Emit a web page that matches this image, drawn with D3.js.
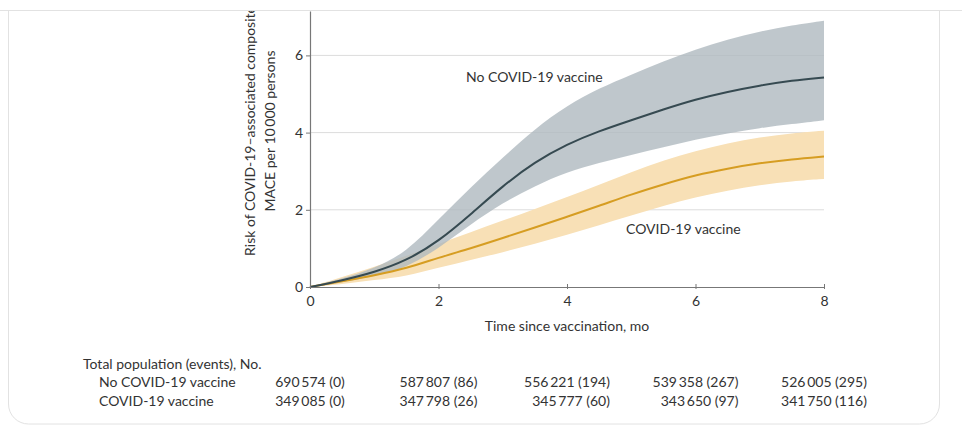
<script src="https://cdn.jsdelivr.net/npm/d3@7"></script>
<style>
  body { margin: 0; background: #fff; }
  text { font-family: Lato, "Noto Sans", sans-serif; fill: #333; }
</style>
<body></body>
<script>
  // Data
  var months = [0, 0.5, 1, 1.5, 2, 2.5, 3, 3.5, 4, 4.5, 5, 5.5, 6, 6.5, 7, 7.5, 8];

  var noVaxRisk  = [0, 0.17, 0.38, 0.68, 1.18, 1.88, 2.62, 3.24, 3.70, 4.04, 4.32, 4.60, 4.86, 5.06, 5.22, 5.35, 5.43];
  var noVaxLower = [0, 0.12, 0.28, 0.50, 1.00, 1.62, 2.18, 2.62, 2.98, 3.22, 3.42, 3.62, 3.82, 3.98, 4.12, 4.22, 4.32];
  var noVaxUpper = [0, 0.22, 0.48, 0.90, 1.75, 2.58, 3.35, 4.10, 4.70, 5.15, 5.50, 5.85, 6.15, 6.42, 6.62, 6.78, 6.90];

  var vaxRisk  = [0, 0.15, 0.30, 0.48, 0.76, 1.00, 1.27, 1.54, 1.82, 2.10, 2.40, 2.66, 2.90, 3.07, 3.21, 3.31, 3.38];
  var vaxLower = [0, 0.07, 0.18, 0.28, 0.50, 0.70, 0.90, 1.12, 1.35, 1.60, 1.85, 2.10, 2.33, 2.50, 2.64, 2.74, 2.80];
  var vaxUpper = [0, 0.26, 0.52, 0.80, 1.12, 1.42, 1.72, 2.02, 2.33, 2.65, 2.98, 3.28, 3.52, 3.73, 3.88, 3.98, 4.05];

  var xTicks = [0, 2, 4, 6, 8];
  var yTicks = [0, 2, 4, 6];

  var groupNames = ["No COVID-19 vaccine", "COVID-19 vaccine"];
  var noVaxPopulation = [690574, 587807, 556221, 539358, 526005];
  var noVaxEvents = [0, 86, 194, 267, 295];
  var vaxPopulation = [349085, 347798, 345777, 343650, 341750];
  var vaxEvents = [0, 26, 60, 97, 116];

  var yTitle = ["Risk of COVID-19\u2013associated composite", "MACE per 10\u2009000 persons"];
  var xTitle = "Time since vaccination, mo";
  var tableTitle = "Total population (events), No.";

  // thin space as thousands separator, like the journal
  var fmt = d3.formatLocale({ decimal: ".", thousands: "\u2009", grouping: [3], currency: ["", ""] }).format(",");

  var width = 962;
  var height = 426;

  var svg = d3.select("body").append("svg")
    .attr("width", width)
    .attr("height", height);

  var x = d3.scaleLinear().domain([0, 8]).range([310, 824]);
  var y = d3.scaleLinear().domain([0, 7.15]).range([287, 11]);

  // gridlines
  svg.append("g")
    .selectAll("line")
    .data(yTicks.slice(1))
    .enter().append("line")
    .attr("x1", x(0))
    .attr("x2", x(8))
    .attr("y1", function(d) { return y(d); })
    .attr("y2", function(d) { return y(d); })
    .attr("stroke", "#dcdcdc")
    .attr("stroke-width", 1);

  // confidence bands
  var band = function(lo, hi) {
    return d3.area()
      .x(function(d, i) { return x(months[i]); })
      .y0(function(d, i) { return y(lo[i]); })
      .y1(function(d, i) { return y(hi[i]); })
      .curve(d3.curveBasis)(months);
  };

  svg.append("path")
    .attr("d", band(vaxLower, vaxUpper))
    .attr("fill", "#f8e0b6");

  svg.append("path")
    .attr("d", band(noVaxLower, noVaxUpper))
    .attr("fill", "#afb9bf")
    .attr("opacity", 0.8);

  // risk curves
  var curve = function(vals) {
    return d3.line()
      .x(function(d, i) { return x(months[i]); })
      .y(function(d, i) { return y(vals[i]); })
      .curve(d3.curveBasis)(months);
  };

  svg.append("path")
    .attr("d", curve(vaxRisk))
    .attr("fill", "none")
    .attr("stroke", "#d69d22")
    .attr("stroke-width", 2);

  svg.append("path")
    .attr("d", curve(noVaxRisk))
    .attr("fill", "none")
    .attr("stroke", "#364a51")
    .attr("stroke-width", 2);

  // axes
  var yAxis = svg.append("g")
    .attr("transform", "translate(" + x(0) + ",0)")
    .call(d3.axisLeft(y).tickValues(yTicks).tickSize(4).tickSizeOuter(0).tickPadding(3));

  var xAxis = svg.append("g")
    .attr("transform", "translate(0," + y(0) + ")")
    .call(d3.axisBottom(x).tickValues(xTicks).tickSize(3).tickSizeOuter(0).tickPadding(6));
  xAxis.selectAll(".tick line").attr("y1", -3).attr("y2", 2);

  [xAxis, yAxis].forEach(function(a) {
    a.select(".domain").attr("stroke", "#777").attr("stroke-width", 1.2);
    a.selectAll(".tick line").attr("stroke", "#777");
    a.selectAll(".tick text")
      .style("font-family", "Lato, 'Noto Sans', sans-serif")
      .style("font-size", "14px")
      .attr("fill", "#333");
  });

  // axis titles
  svg.append("text")
    .attr("x", x(4))
    .attr("y", 331)
    .attr("text-anchor", "middle")
    .style("font-size", "14px")
    .text(xTitle);

  svg.selectAll(".ytitle")
    .data(yTitle)
    .enter().append("text")
    .attr("class", "ytitle")
    .attr("transform", function(d, i) { return "translate(" + (255 + i * 20) + ",131) rotate(-90)"; })
    .attr("text-anchor", "middle")
    .style("font-size", "14px")
    .text(function(d) { return d; });

  // series labels
  svg.append("text")
    .attr("x", 466)
    .attr("y", 82)
    .style("font-size", "14px")
    .text(groupNames[0]);

  svg.append("text")
    .attr("x", 626)
    .attr("y", 234)
    .style("font-size", "14px")
    .text(groupNames[1]);

  // population table
  svg.append("text")
    .attr("x", 83)
    .attr("y", 369)
    .style("font-size", "14px")
    .text(tableTitle);

  var rowY = [387, 406];
  groupNames.forEach(function(name, r) {
    svg.append("text")
      .attr("x", 99)
      .attr("y", rowY[r])
      .style("font-size", "14px")
      .text(name);
  });

  // first row centred on the ticks, second row right-aligned to it
  xTicks.forEach(function(t, i) {
    var top = svg.append("text")
      .attr("x", x(t))
      .attr("y", rowY[0])
      .attr("text-anchor", "middle")
      .style("font-size", "14px")
      .text(fmt(noVaxPopulation[i]) + " (" + noVaxEvents[i] + ")");
    var right = x(t) + top.node().getComputedTextLength() / 2;
    svg.append("text")
      .attr("x", right)
      .attr("y", rowY[1])
      .attr("text-anchor", "end")
      .style("font-size", "14px")
      .text(fmt(vaxPopulation[i]) + " (" + vaxEvents[i] + ")");
  });

  // card frame; anything above its top edge is cut off
  svg.append("rect")
    .attr("x", 0)
    .attr("y", 0)
    .attr("width", width)
    .attr("height", 10)
    .attr("fill", "#fff");

  svg.append("line")
    .attr("x1", 0)
    .attr("x2", width)
    .attr("y1", 10.5)
    .attr("y2", 10.5)
    .attr("stroke", "#e2e2e2");

  svg.append("path")
    .attr("d", "M8.5,10 V404 A20,20 0 0 0 28.5,424 H919.5 A20,20 0 0 0 939.5,404 V10")
    .attr("fill", "none")
    .attr("stroke", "#e2e2e2");
</script>
